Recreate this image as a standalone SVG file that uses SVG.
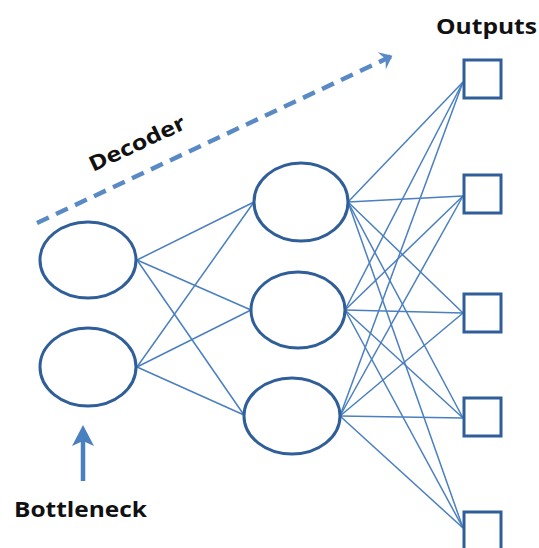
<svg xmlns="http://www.w3.org/2000/svg" width="539" height="548" viewBox="0 0 539 548">
<style>
.n{fill:none;stroke:#2f5e98;stroke-width:3}
.c line{stroke:#4a7fc0;stroke-width:1.5}
.t{font-family:"Open Sans","Liberation Sans",sans-serif;font-weight:bold;fill:#111}
</style>
<defs>
<marker id="ah" markerWidth="5" markerHeight="5" refX="2.5" refY="2.5" orient="auto" markerUnits="strokeWidth">
<path d="M0,0.4 L2.6,2.5 L0,4.6 L0.9,2.5 Z" fill="#5a8ac6"/>
</marker>
</defs>
<rect width="539" height="548" fill="#fff"/>
<g class="c" id="connectors">
<line x1="137" y1="260" x2="254" y2="202"/>
<line x1="137" y1="260" x2="251" y2="310"/>
<line x1="137" y1="260" x2="244" y2="415"/>
<line x1="137" y1="367" x2="254" y2="202"/>
<line x1="137" y1="367" x2="251" y2="310"/>
<line x1="137" y1="367" x2="244" y2="415"/>
<line x1="348" y1="202" x2="463" y2="82"/>
<line x1="348" y1="202" x2="463" y2="196"/>
<line x1="348" y1="202" x2="463" y2="313"/>
<line x1="348" y1="202" x2="463" y2="418"/>
<line x1="348" y1="202" x2="463" y2="528"/>
<line x1="345" y1="310" x2="463" y2="82"/>
<line x1="345" y1="310" x2="463" y2="196"/>
<line x1="345" y1="310" x2="463" y2="313"/>
<line x1="345" y1="310" x2="463" y2="418"/>
<line x1="345" y1="310" x2="463" y2="528"/>
<line x1="340" y1="416" x2="463" y2="82"/>
<line x1="340" y1="416" x2="463" y2="196"/>
<line x1="340" y1="416" x2="463" y2="313"/>
<line x1="340" y1="416" x2="463" y2="418"/>
<line x1="340" y1="416" x2="463" y2="528"/>
</g>
<g id="b1"><ellipse class="n" cx="88" cy="260" rx="48" ry="38"/></g>
<g id="b2"><ellipse class="n" cx="88" cy="367" rx="48" ry="39"/></g>
<g id="h1"><ellipse class="n" cx="301" cy="202" rx="47" ry="39"/></g>
<g id="h2"><ellipse class="n" cx="298" cy="310" rx="47" ry="38"/></g>
<g id="h3"><ellipse class="n" cx="292" cy="416" rx="48" ry="38"/></g>
<g id="o1"><rect class="n" x="464" y="60" width="37" height="38"/></g>
<g id="o2"><rect class="n" x="464" y="175" width="37" height="38"/></g>
<g id="o3"><rect class="n" x="464" y="294" width="37" height="38"/></g>
<g id="o4"><rect class="n" x="464" y="398" width="37" height="38"/></g>
<g id="o5"><rect class="n" x="464" y="512" width="37" height="38"/></g>
<g id="decoder">
<line x1="37" y1="223" x2="392" y2="56" stroke="#5a8ac6" stroke-width="4.5" stroke-dasharray="13 8" marker-end="url(#ah)"/>
<text class="t" font-size="21" transform="translate(93,172) rotate(-25)" textLength="104" lengthAdjust="spacingAndGlyphs">Decoder</text>
</g>
<g id="bottleneck">
<line x1="83" y1="481" x2="83" y2="440" stroke="#4a7fc0" stroke-width="4.5"/>
<path d="M72,446 L83,425 L94,446 L83,441 Z" fill="#4a7fc0"/>
<text class="t" x="14" y="517" font-size="22" textLength="133" lengthAdjust="spacingAndGlyphs">Bottleneck</text>
</g>
<g id="outputs-label">
<text class="t" x="436" y="34" font-size="21" textLength="101" lengthAdjust="spacingAndGlyphs">Outputs</text>
</g>
</svg>
